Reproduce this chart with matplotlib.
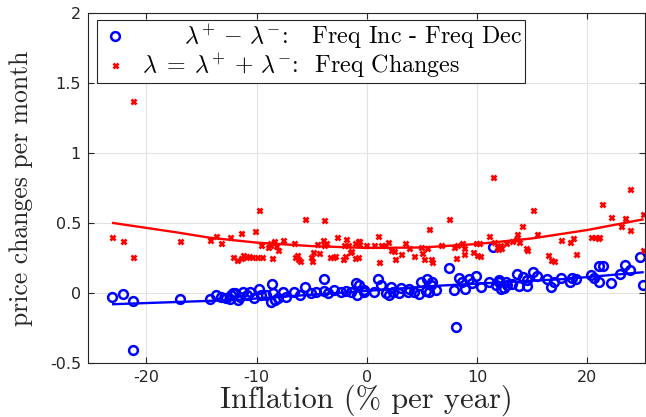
import matplotlib
matplotlib.use("Agg")
import matplotlib.pyplot as plt
from matplotlib.ticker import FuncFormatter

# --- scatter data ---
# lambda+ - lambda- (freq inc - freq dec), blue circles
net_x = [-23.1, -22.1, -21.2, -21.2, -16.9, -14.25, -13.7, -13.2, -12.4, -12.1,
         -12.75, -12.3, -12.0, -11.7, -11.5, -11.2, -10.9, -10.6, -10.2, -9.8,
         -9.64, -9.1, -8.67, -8.6, -8.5, -8.37, -8.07, -7.6, -7.3, -6.56,
         -6.1, -5.65, -5.05, -4.6, -3.9, -3.85, -3.55, -2.95, -2.35, -1.9,
         -1.45, -1.0, -0.85, -0.24,
         -0.68, -0.23, 0.68, 0.98, 1.28, 1.74, 1.97, 2.19, 2.34, 2.94,
         3.09, 3.7, 3.85, 4.3, 4.75, 4.9, 5.35, 5.5, 5.65, 5.8,
         5.95, 6.26, 7.47, 7.92, 8.13, 8.37, 8.67, 8.91, 9.27, 9.58,
         9.94, 10.33, 11.08, 11.4, 11.7, 11.99, 12.0, 12.2, 12.4, 12.6,
         12.7, 13.2, 13.6, 13.8, 14.2, 14.5, 14.55, 15.1, 15.46, 16.3,
         16.7, 17.0, 17.6, 18.4, 18.6, 19.0, 20.3, 20.6, 21.1, 21.1,
         21.4, 22.1, 23.0, 23.4, 23.85, 24.8, 25.05]
net_y = [-0.03, -0.01, -0.06, -0.41, -0.04, -0.04, -0.015, -0.03, -0.04, 0.0,
         -0.038, -0.014, -0.002, -0.05, -0.026, 0.005, -0.014, 0.01, -0.033, 0.03,
         -0.014, -0.014, -0.062, 0.065, -0.002, -0.05, -0.038, 0.005, -0.026, 0.01,
         -0.014, 0.045, -0.002, 0.005, 0.10, 0.014, -0.002, 0.021, 0.01, 0.014,
         0.005, 0.07, -0.014, 0.005,
         0.057, 0.021, 0.005, 0.10, 0.057, -0.002, -0.014, 0.045, 0.005, -0.002,
         0.038, 0.005, 0.029, 0.01, -0.01, 0.076, 0.014, 0.097, 0.005, 0.057,
         0.076, 0.021, 0.18, 0.021, -0.24, 0.109, 0.081, 0.029, 0.10, 0.074,
         0.124, 0.045, 0.081, 0.33, 0.057, 0.081, 0.093, 0.029, 0.033, 0.081,
         0.057, 0.062, 0.133, 0.05, 0.117, 0.05, 0.093, 0.148, 0.124, 0.10,
         0.045, 0.076, 0.109, 0.076, 0.105, 0.097, 0.129, 0.105, 0.081, 0.193,
         0.193, 0.074, 0.136, 0.20, 0.164, 0.26, 0.057]

# lambda = lambda+ + lambda- (freq changes), red crosses
tot_x = [-23.1, -22.1, -21.2, -21.2, -16.9, -14.25, -13.7, -13.2, -12.4, -12.1,
         -9.8, -5.6, -3.9, -11.45, -10.1, -2.7, -1.9, -7.6, -6.6, -9.6,
         -9.0, -8.8, -8.4, -8.2, -8.8, -8.1, -4.5, -4.0, -3.85, -3.7,
         -2.1, -1.7, -1.1, -0.8, -0.7, -1.4, -0.1,
         -11.75, -11.45, -11.2, -11.0, -10.7, -10.45, -10.0, -9.5, -8.6,
         -6.3, -6.2, -6.1, -6.5, -5.1, -4.9, -5.0, -4.3, -3.3, -2.9,
         -3.05, -2.2, -2.0, -1.5, -1.05, -0.8,
         7.47, 5.6, 11.1, 0.98, -0.68, 0.68, 1.88, 1.67, 1.28, 3.48,
         3.85, 2.19, 2.49, 3.09, 2.58, 1.13, 4.3, 4.98, 5.15, 5.8,
         5.9, 4.9, 5.5, 6.7, 7.9, 8.2, 8.67, 8.8, 8.07, 8.8,
         9.6, 10.0, 10.3, 9.9, 10.2, 11.8, 12.1, 11.4,
         23.85, 21.3, 15.1, 22.1, 23.4, 25.05, 14.1, 23.06, 23.9, 15.46,
         13.65, 11.54, 11.9, 12.2, 12.6, 13.2, 13.8, 13.5, 14.4, 14.55,
         17.6, 18.4, 18.7, 20.3, 20.7, 20.95, 21.1, 16.4, 16.7, 17.0,
         19.0, 25.05]
tot_y = [0.40, 0.37, 0.26, 1.37, 0.37, 0.38, 0.41, 0.36, 0.40, 0.26,
         0.59, 0.53, 0.52, 0.43, 0.44, 0.40, 0.385, 0.38, 0.355, 0.34,
         0.33, 0.355, 0.37, 0.335, 0.34, 0.31, 0.35, 0.38, 0.34, 0.36,
         0.34, 0.34, 0.355, 0.37, 0.35, 0.30, 0.34,
         0.235, 0.25, 0.275, 0.26, 0.265, 0.26, 0.26, 0.255, 0.25,
         0.275, 0.245, 0.23, 0.26, 0.255, 0.295, 0.23, 0.285, 0.26, 0.265,
         0.255, 0.245, 0.265, 0.29, 0.25, 0.255,
         0.53, 0.46, 0.41, 0.41, 0.37, 0.34, 0.365, 0.345, 0.34, 0.36,
         0.32, 0.307, 0.302, 0.276, 0.243, 0.224, 0.264, 0.283, 0.243, 0.243,
         0.224, 0.33, 0.32, 0.34, 0.33, 0.345, 0.36, 0.32, 0.25, 0.276,
         0.29, 0.27, 0.264, 0.36, 0.36, 0.33, 0.345, 0.83,
         0.74, 0.636, 0.59, 0.54, 0.538, 0.564, 0.48, 0.48, 0.45, 0.42,
         0.42, 0.367, 0.317, 0.32, 0.355, 0.371, 0.362, 0.385, 0.32, 0.31,
         0.378, 0.367, 0.395, 0.40, 0.40, 0.39, 0.40, 0.27, 0.236, 0.23,
         0.276, 0.31]

# fitted curves
net_fit_x = [-23, -12, 0, 6, 12, 18, 25]
net_fit_y = [-0.08, -0.05, 0.015, 0.05, 0.075, 0.10, 0.148]
tot_fit_x = [-23, -17.4, -14.25, -10, -5, 0, 5, 10, 15, 20, 25]
tot_fit_y = [0.50, 0.435, 0.395, 0.36, 0.335, 0.322, 0.325, 0.35, 0.39, 0.45, 0.525]

x_ticks = [-20, -10, 0, 10, 20]
y_ticks = [-0.5, 0, 0.5, 1, 1.5, 2]

plt.rcParams["mathtext.fontset"] = "cm"
plt.rcParams["axes.unicode_minus"] = False

TICK_FONT = "DejaVu Sans"
SERIF = "cmr10"
DARK = "#262626"

fig = plt.figure(figsize=(6.46, 4.17), dpi=100)
ax = fig.add_axes([0.136, 0.1295, 0.862, 0.8393])

ax.plot(net_x, net_y, "o", ls="none", mfc="none", mec="#0000ff", ms=6.3, mew=1.8,
        label=r"$\qquad\lambda^{+}\,-\,\lambda^{-}$:   Freq Inc - Freq Dec")
ax.plot(tot_x, tot_y, "x", ls="none", color="#ff0000", ms=3.6, mew=2.0,
        label=r"$\lambda\;=\;\lambda^{+}\,+\,\lambda^{-}$:  Freq Changes")
ax.plot(net_fit_x, net_fit_y, "-", color="#0000ff", lw=1.7)
ax.plot(tot_fit_x, tot_fit_y, "-", color="#ff0000", lw=1.7)

ax.set_xlim(-25.3, 25.2)
ax.set_ylim(-0.5, 2)
ax.set_xticks(x_ticks)
ax.set_yticks(y_ticks)
ax.yaxis.set_major_formatter(FuncFormatter(lambda v, p: f"{v:g}"))
ax.grid(True, color="#e3e3e3", lw=0.8)
ax.set_axisbelow(True)
ax.tick_params(direction="in", top=True, right=True, length=4, width=0.8,
               color=DARK, labelcolor=DARK, labelsize=11.5, pad=5)
for lab in ax.get_xticklabels() + ax.get_yticklabels():
    lab.set_fontfamily(TICK_FONT)
for sp in ax.spines.values():
    sp.set_color(DARK)
    sp.set_linewidth(0.8)

ax.set_xlabel("Inflation (% per year)", family=SERIF, fontsize=22, color=DARK, labelpad=0)
ax.set_ylabel("price changes per month", family=SERIF, fontsize=18.5, color=DARK, labelpad=12)

leg = ax.legend(loc="upper left", bbox_to_anchor=(0.016, 0.98), borderaxespad=0,
                prop={"family": SERIF, "size": 17.3}, fancybox=False, framealpha=1,
                edgecolor=DARK, handletextpad=0.5, borderpad=0.1, labelspacing=0.0,
                handlelength=1.3)
leg.get_frame().set_linewidth(0.8)

plt.savefig("out.png", dpi=100)
plt.close()
